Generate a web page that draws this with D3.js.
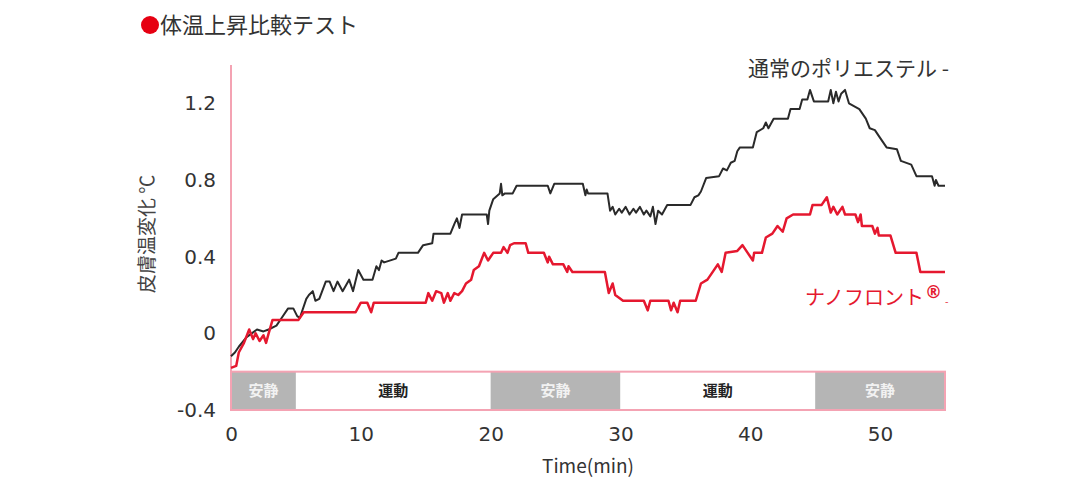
<!DOCTYPE html>
<html>
<head>
<meta charset="utf-8">
<script src="https://cdn.jsdelivr.net/npm/d3@7"></script>
<style>
  body { margin: 0; background: #fff; }
  svg { font-family: "Noto Sans CJK JP", "Noto Sans", sans-serif; }
</style>
</head>
<body>
<div id="chart-area"></div>
<script>
/* data: [minutes, skin temperature change in deg C] */
const polyester = [
  [0, -0.12], [0.3, -0.1], [0.6, -0.07], [1.2, -0.02], [1.6, 0.0], [2.0, 0.02], [2.5, 0.01], [2.9, 0.02],
  [3.5, 0.04], [3.9, 0.08], [4.4, 0.13], [4.8, 0.13], [5.1, 0.09], [5.3, 0.08], [5.8, 0.18], [6.0, 0.2],
  [6.3, 0.22], [6.5, 0.17], [6.8, 0.18], [7.3, 0.27], [7.6, 0.27], [7.9, 0.22], [8.2, 0.27], [8.6, 0.22],
  [9.1, 0.28], [9.4, 0.22], [9.8, 0.33], [10.2, 0.28], [10.9, 0.28], [11.2, 0.35], [11.4, 0.33], [11.6, 0.38],
  [11.8, 0.37], [12.7, 0.39], [12.9, 0.42], [14.4, 0.42], [14.8, 0.46], [15.5, 0.47], [15.6, 0.52], [16.9, 0.52],
  [17.2, 0.57], [17.4, 0.6], [17.6, 0.55], [17.8, 0.62], [19.7, 0.62], [19.8, 0.57], [19.9, 0.64], [20.2, 0.7],
  [20.7, 0.73], [20.8, 0.78], [20.9, 0.72], [21.1, 0.73], [21.7, 0.73], [22.0, 0.77], [24.4, 0.77], [24.6, 0.73],
  [24.9, 0.78], [27.1, 0.78], [27.3, 0.72], [27.4, 0.75], [27.5, 0.73], [29.0, 0.73], [29.2, 0.64], [29.4, 0.66],
  [29.6, 0.62], [29.9, 0.65], [30.1, 0.63], [30.4, 0.66], [30.7, 0.62], [31.0, 0.65], [31.2, 0.63], [31.5, 0.66],
  [31.8, 0.62], [32.0, 0.64], [32.3, 0.61], [32.5, 0.66], [32.7, 0.57], [32.9, 0.64], [33.2, 0.62], [33.6, 0.67],
  [35.4, 0.67], [35.7, 0.71], [36.0, 0.72], [36.2, 0.74], [36.6, 0.81], [37.6, 0.82], [37.9, 0.86], [38.2, 0.85],
  [38.5, 0.89], [38.8, 0.9], [39.0, 0.95], [39.2, 0.97], [40.2, 0.97], [40.5, 1.05], [41.0, 1.07], [41.2, 1.1],
  [41.4, 1.07], [41.8, 1.12], [42.9, 1.12], [43.1, 1.17], [43.8, 1.17], [44.0, 1.22], [44.4, 1.22], [44.6, 1.27],
  [44.9, 1.21], [46.0, 1.21], [46.2, 1.27], [46.4, 1.2], [46.6, 1.26], [46.8, 1.21], [47.0, 1.25], [47.3, 1.27],
  [47.6, 1.2], [48.4, 1.17], [48.9, 1.12], [49.2, 1.07], [49.6, 1.06], [50.0, 1.02], [50.5, 0.97], [51.3, 0.96],
  [51.6, 0.9], [52.4, 0.88], [52.8, 0.82], [54.0, 0.82], [54.2, 0.77], [54.3, 0.8], [54.5, 0.77], [55, 0.77]
]

const nanofront = [
  [0, -0.18], [0.4, -0.17], [0.6, -0.1], [1.0, -0.05], [1.4, 0.02], [1.7, -0.03], [1.9, 0.0], [2.2, -0.04],
  [2.5, -0.01], [2.7, -0.05], [2.9, 0.0], [3.2, 0.07], [5.2, 0.07], [5.6, 0.11], [9.6, 0.11], [10.0, 0.16],
  [10.5, 0.16], [10.8, 0.11], [11.0, 0.16], [15.0, 0.16], [15.2, 0.21], [15.5, 0.17], [15.8, 0.22], [16.2, 0.21],
  [16.4, 0.16], [16.7, 0.21], [16.9, 0.17], [17.2, 0.21], [17.5, 0.2], [17.8, 0.22], [18.1, 0.26], [18.5, 0.28],
  [18.7, 0.33], [19.1, 0.35], [19.5, 0.42], [19.8, 0.38], [20.2, 0.42], [20.8, 0.42], [21.0, 0.45], [21.3, 0.42],
  [21.5, 0.46], [21.8, 0.47], [22.7, 0.47], [22.9, 0.42], [24.1, 0.42], [24.4, 0.37], [24.5, 0.4], [24.8, 0.36],
  [25.6, 0.36], [25.9, 0.32], [26.0, 0.35], [26.3, 0.32], [28.8, 0.32], [29.1, 0.21], [29.4, 0.26], [29.6, 0.2],
  [30.2, 0.17], [31.8, 0.17], [32.1, 0.12], [32.3, 0.17], [33.7, 0.17], [33.9, 0.12], [34.1, 0.16], [34.4, 0.11],
  [34.6, 0.17], [35.8, 0.17], [36.2, 0.26], [36.7, 0.28], [37.2, 0.33], [37.5, 0.36], [37.8, 0.32], [38.1, 0.42],
  [39.0, 0.43], [39.4, 0.46], [39.8, 0.42], [40.2, 0.38], [40.3, 0.42], [40.9, 0.42], [41.2, 0.5], [41.7, 0.52],
  [42.1, 0.56], [42.5, 0.53], [42.8, 0.6], [43.3, 0.62], [44.6, 0.62], [44.8, 0.67], [45.5, 0.67], [45.9, 0.71],
  [46.2, 0.63], [46.4, 0.66], [46.7, 0.62], [47.1, 0.66], [47.3, 0.62], [48.1, 0.62], [48.3, 0.58], [48.5, 0.62],
  [48.6, 0.56], [49.4, 0.56], [49.6, 0.52], [49.8, 0.55], [49.9, 0.51], [50.8, 0.51], [51.2, 0.42], [52.8, 0.42],
  [53.1, 0.32], [55, 0.32]
]

// phases along the bottom band
const phases = [
  { label: '安静', start: 0, end: 5, rest: true },
  { label: '運動', start: 5, end: 20, rest: false },
  { label: '安静', start: 20, end: 30, rest: true },
  { label: '運動', start: 30, end: 45, rest: false },
  { label: '安静', start: 45, end: 55, rest: true },
]

const xTicks = [0, 10, 20, 30, 40, 50]
const yTicks = [-0.4, 0, 0.4, 0.8, 1.2]
const yTickLabels = ['-0.4', '0', '0.4', '0.8', '1.2']

/* Canvas */
const WIDTH = 1080
const HEIGHT = 500
const PINK = '#f4a3b3'
const RED = '#e5182f'

const $svg = d3.select('#chart-area')
  .append('svg')
  .attr('width', WIDTH)
  .attr('height', HEIGHT)

/* Scales */
const xScale = d3.scaleLinear()
  .domain([0, 55])
  .range([231, 945])

const yScale = d3.scaleLinear()
  .domain([-0.4, 1.4])
  .range([410, 65])

/* Title */
$svg.append('circle')
  .attr('cx', 150)
  .attr('cy', 25)
  .attr('r', 9)
  .attr('fill', '#e60012')

$svg.append('text')
  .attr('x', 160)
  .attr('y', 33)
  .attr('font-size', 22)
  .attr('fill', '#333')
  .text('体温上昇比較テスト')

/* Phase band */
const $band = $svg.append('g')

$band.selectAll('rect.phase')
  .data(phases)
  .enter()
  .append('rect')
  .attr('class', 'phase')
  .attr('x', d => xScale(d.start))
  .attr('width', d => xScale(d.end) - xScale(d.start))
  .attr('y', yScale(-0.2))
  .attr('height', yScale(-0.4) - yScale(-0.2))
  .attr('fill', d => d.rest ? '#b5b5b5' : '#fff')

$band.append('rect')
  .attr('x', xScale(0))
  .attr('y', yScale(-0.2))
  .attr('width', xScale(55) - xScale(0))
  .attr('height', yScale(-0.4) - yScale(-0.2))
  .attr('fill', 'none')
  .attr('stroke', PINK)
  .attr('stroke-width', 2)

$band.selectAll('text')
  .data(phases)
  .enter()
  .append('text')
  .attr('x', d => xScale((d.start + d.end) / 2))
  .attr('y', yScale(-0.3) + 5)
  .attr('text-anchor', 'middle')
  .attr('font-size', 15)
  .attr('font-weight', 'bold')
  .attr('fill', d => d.rest ? '#f2f2f2' : '#222')
  .text(d => d.label)

/* Axes */
const yAxisCall = d3.axisLeft(yScale)
  .tickValues(yTicks)
  .tickSize(0)
  .tickPadding(15)
  .tickFormat((d, i) => yTickLabels[i])

const $yAxis = $svg.append('g')
  .attr('transform', `translate(${xScale(0)}, 0)`)
  .call(yAxisCall)

const xAxisCall = d3.axisBottom(xScale)
  .tickValues(xTicks)
  .tickSize(0)
  .tickPadding(17)

const $xAxis = $svg.append('g')
  .attr('transform', `translate(0, ${yScale(-0.4)})`)
  .call(xAxisCall)

$svg.selectAll('.domain').remove()
$svg.selectAll('.tick text')
  .attr('font-size', 20)
  .attr('fill', '#333')
  .attr('font-family', '"DejaVu Sans", sans-serif')

// pink vertical axis line
$svg.append('line')
  .attr('x1', xScale(0))
  .attr('x2', xScale(0))
  .attr('y1', yScale(1.4))
  .attr('y2', yScale(-0.4))
  .attr('stroke', PINK)
  .attr('stroke-width', 2)

/* Axis labels */
$svg.append('text')
  .attr('transform', `translate(154, 234) rotate(-90)`)
  .attr('text-anchor', 'middle')
  .attr('font-size', 19)
  .attr('fill', '#444')
  .text('皮膚温変化 ℃')

$svg.append('text')
  .attr('x', 588)
  .attr('y', 473)
  .attr('text-anchor', 'middle')
  .attr('font-size', 19)
  .attr('fill', '#333')
  .text('Time(min)')

/* Lines */
const line = d3.line()
  .x(d => xScale(d[0]))
  .y(d => yScale(d[1]))

$svg.append('path')
  .datum(polyester)
  .attr('fill', 'none')
  .attr('stroke', '#2a2a2a')
  .attr('stroke-width', 2)
  .attr('stroke-linejoin', 'round')
  .attr('d', line)

$svg.append('path')
  .datum(nanofront)
  .attr('fill', 'none')
  .attr('stroke', RED)
  .attr('stroke-width', 2.5)
  .attr('stroke-linejoin', 'round')
  .attr('d', line)

/* Series labels */
$svg.append('text')
  .attr('x', 748)
  .attr('y', 76)
  .attr('font-size', 21)
  .attr('fill', '#333')
  .text('通常のポリエステル -')

const $nano = $svg.append('text')
  .attr('x', 805)
  .attr('y', 305)
  .attr('font-size', 20)
  .attr('fill', RED)

$nano.append('tspan').text('ナノフロント')
$nano.append('tspan')
  .attr('font-size', 17)
  .attr('font-family', '"DejaVu Sans", sans-serif')
  .attr('dy', -7)
  .attr('dx', 1)
  .attr('font-weight', 'bold')
  .text('®')
$nano.append('tspan')
  .attr('font-size', 10)
  .attr('dy', 7)
  .attr('dx', 3)
  .text('-')
</script>
</body>
</html>
